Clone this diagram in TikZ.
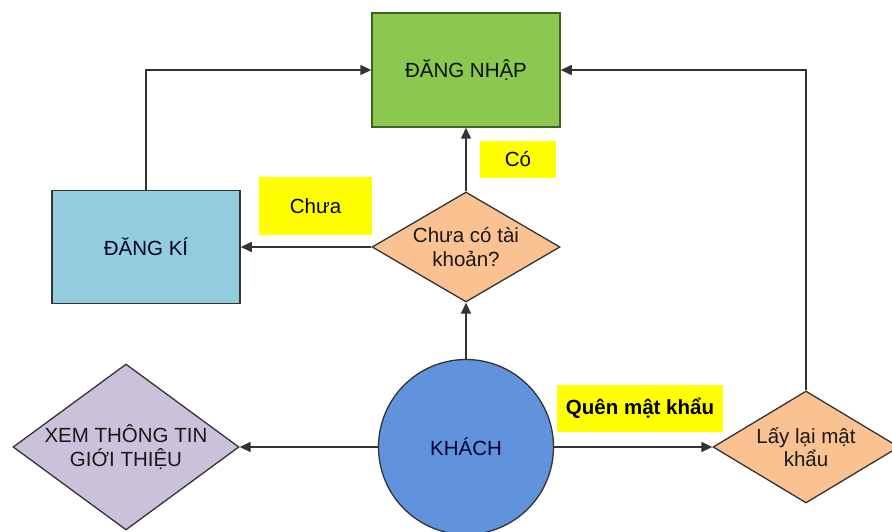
\documentclass[tikz,border=0pt]{standalone}
\usepackage{fontspec}
\setmainfont{Liberation Sans}
\usetikzlibrary{shapes.geometric,arrows.meta}

\definecolor{loginfill}{HTML}{8CC850}
\definecolor{loginline}{HTML}{3F6224}
\definecolor{regfill}{HTML}{93CDDD}
\definecolor{peach}{HTML}{FAC191}
\definecolor{lilac}{HTML}{CCC1DA}
\definecolor{guestfill}{HTML}{6193DC}
\definecolor{edge}{HTML}{333333}
\definecolor{tag}{HTML}{FFFF00}

\begin{document}
\begin{tikzpicture}[x=1pt,y=-1pt,
  every node/.style={font=\fontsize{20.5}{23.5}\selectfont, align=center},
  box/.style={draw=edge, line width=1.5pt, rectangle, inner sep=0pt},
  rhomb/.style={draw=edge, line width=1.3pt, diamond, inner sep=0pt},
  tagbox/.style={fill=tag, inner sep=0pt},
  arr/.style={draw=edge, line width=1.5pt, -{Triangle[length=11pt,width=10pt]}}
]
\useasboundingbox (0,0) rectangle (892,532);
\clip (0,0) rectangle (892,532);

% main boxes
\node[box, draw=loginline, fill=loginfill, minimum width=188pt, minimum height=114pt,
      text=black!85!loginline] (login) at (466,70) {ĐĂNG NHẬP};
\node[box, fill=regfill, minimum width=188pt, minimum height=113pt,
      text=black!85!blue] (reg) at (146,247) {ĐĂNG KÍ};

% decision shapes
\node[rhomb, fill=peach, minimum width=188pt, minimum height=110pt] (check) at (466,247) {};
\node[text=black!90] at (check.center) {Chưa có tài\\khoản?};

\node[rhomb, fill=lilac, minimum width=226pt, minimum height=166pt] (info) at (126,447) {};
\node[text=black!90] at (info.center) {XEM THÔNG TIN\\GIỚI THIỆU};

\node[rhomb, fill=peach, minimum width=186pt, minimum height=112pt] (reset) at (806,447) {};
\node[text=black!90] at (reset.center) {Lấy lại mật\\khẩu};

% guest
\node[circle, draw=edge, line width=1.3pt, fill=guestfill, minimum size=175pt, inner sep=0pt,
      text=black!80!blue] (guest) at (466,447) {KHÁCH};

% highlighted labels
\node[tagbox, minimum width=113pt, minimum height=58pt] (tno) at (315.5,206) {Chưa};
\node[tagbox, minimum width=76pt, minimum height=37pt] (tyes) at (518,159.5) {Có};
\node[tagbox, minimum width=166pt, minimum height=47pt, font=\fontsize{20.5}{23.5}\selectfont\bfseries] (tforgot) at (640,408.5) {Quên mật khẩu};

% connectors
\draw[arr] (reg.north) |- (login.west);
\draw[arr] (reset.north) |- (login.east);
\draw[arr] (check.north) -- (login.south);
\draw[arr] (guest.north) -- (check.south);
\draw[arr] (check.west) -- (reg.east);
\draw[arr] (guest.west) -- (info.east);
\draw[arr] (guest.east) -- (reset.west);
\end{tikzpicture}
\end{document}
